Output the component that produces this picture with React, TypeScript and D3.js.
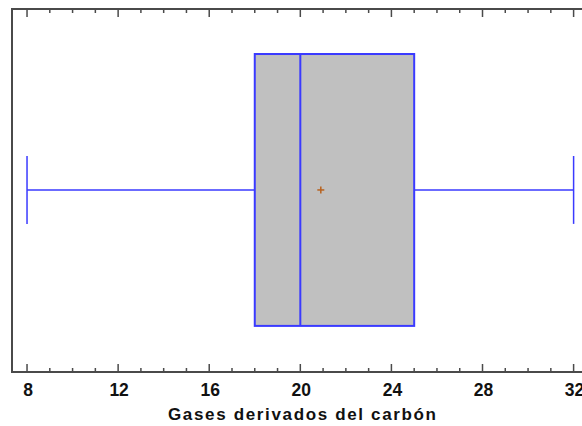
import React from "react";
import * as d3 from "d3";

// Summary statistics for the distribution
const variableName = "Gases derivados del carbón";
const minValue = [8];
const q1Value = [18];
const medianValue = [20];
const q3Value = [25];
const maxValue = [32];
const meanValue = [20.9];
const majorTicks = [8, 12, 16, 20, 24, 28, 32];

const W = 582;
const H = 426;
const frame = { left: 12, top: 9, right: 590, bottom: 372 };

export default function App() {
  const x = d3.scaleLinear().domain([7.34, 32.72]).range([frame.left, frame.right]);
  // vertical position within the plot, 0 = top, 1 = bottom
  const y = d3.scaleLinear().domain([0, 1]).range([frame.top, frame.bottom]);

  const boxTop = y(0.124);
  const boxBot = y(0.873);
  const mid = y(0.4985);
  const capTop = y(0.405);
  const capBot = y(0.592);

  const minorTicks = d3.range(8, 33, 1).filter((v) => !majorTicks.includes(v));

  const blue = "#3a3aff";
  const frameColor = "#4a4a4a";

  return (
    <svg
      width={W}
      height={H}
      style={{ position: "absolute", left: 0, top: 0, display: "block", background: "#fff" }}
      fontFamily="'Liberation Sans', Arial, sans-serif"
    >
      {/* whiskers */}
      <line x1={x(minValue[0])} x2={x(q1Value[0])} y1={mid} y2={mid} stroke={blue} strokeWidth={1.5} />
      <line x1={x(q3Value[0])} x2={x(maxValue[0])} y1={mid} y2={mid} stroke={blue} strokeWidth={1.5} />
      <line x1={x(minValue[0])} x2={x(minValue[0])} y1={capTop} y2={capBot} stroke={blue} strokeWidth={1.5} />
      <line x1={x(maxValue[0])} x2={x(maxValue[0])} y1={capTop} y2={capBot} stroke={blue} strokeWidth={1.5} />

      {/* box */}
      <rect
        x={x(q1Value[0])}
        y={boxTop}
        width={x(q3Value[0]) - x(q1Value[0])}
        height={boxBot - boxTop}
        fill="#c0c0c0"
        stroke={blue}
        strokeWidth={2}
      />
      <line x1={x(medianValue[0])} x2={x(medianValue[0])} y1={boxTop} y2={boxBot} stroke={blue} strokeWidth={2} />

      {/* mean marker */}
      <g stroke="#b8621e" strokeWidth={1.5}>
        <line x1={x(meanValue[0]) - 3.5} x2={x(meanValue[0]) + 3.5} y1={mid} y2={mid} />
        <line x1={x(meanValue[0])} x2={x(meanValue[0])} y1={mid - 3.5} y2={mid + 3.5} />
      </g>

      {/* frame */}
      <rect
        x={frame.left}
        y={frame.top}
        width={frame.right - frame.left}
        height={frame.bottom - frame.top}
        fill="none"
        stroke={frameColor}
        strokeWidth={2}
      />

      {/* ticks */}
      <g stroke={frameColor} strokeWidth={1.5}>
        {majorTicks.map((t) => (
          <g key={"M" + t}>
            <line x1={x(t)} x2={x(t)} y1={frame.bottom} y2={frame.bottom - 8} />
            <line x1={x(t)} x2={x(t)} y1={frame.top} y2={frame.top + 8} />
          </g>
        ))}
        {minorTicks.map((t) => (
          <g key={"m" + t}>
            <line x1={x(t)} x2={x(t)} y1={frame.bottom} y2={frame.bottom - 4} />
            <line x1={x(t)} x2={x(t)} y1={frame.top} y2={frame.top + 4} />
          </g>
        ))}
      </g>

      {/* tick labels */}
      {majorTicks.map((t) => (
        <text
          key={"l" + t}
          x={x(t) + 1}
          y={396}
          textAnchor="middle"
          fontSize={17.5}
          fontWeight="bold"
          fill="#111"
        >
          {t}
        </text>
      ))}

      <text
        x={302}
        y={420}
        textAnchor="middle"
        fontSize={17}
        fontWeight="bold"
        fill="#111"
        textLength={268}
        lengthAdjust="spacing"
      >
        {variableName}
      </text>
    </svg>
  );
}
